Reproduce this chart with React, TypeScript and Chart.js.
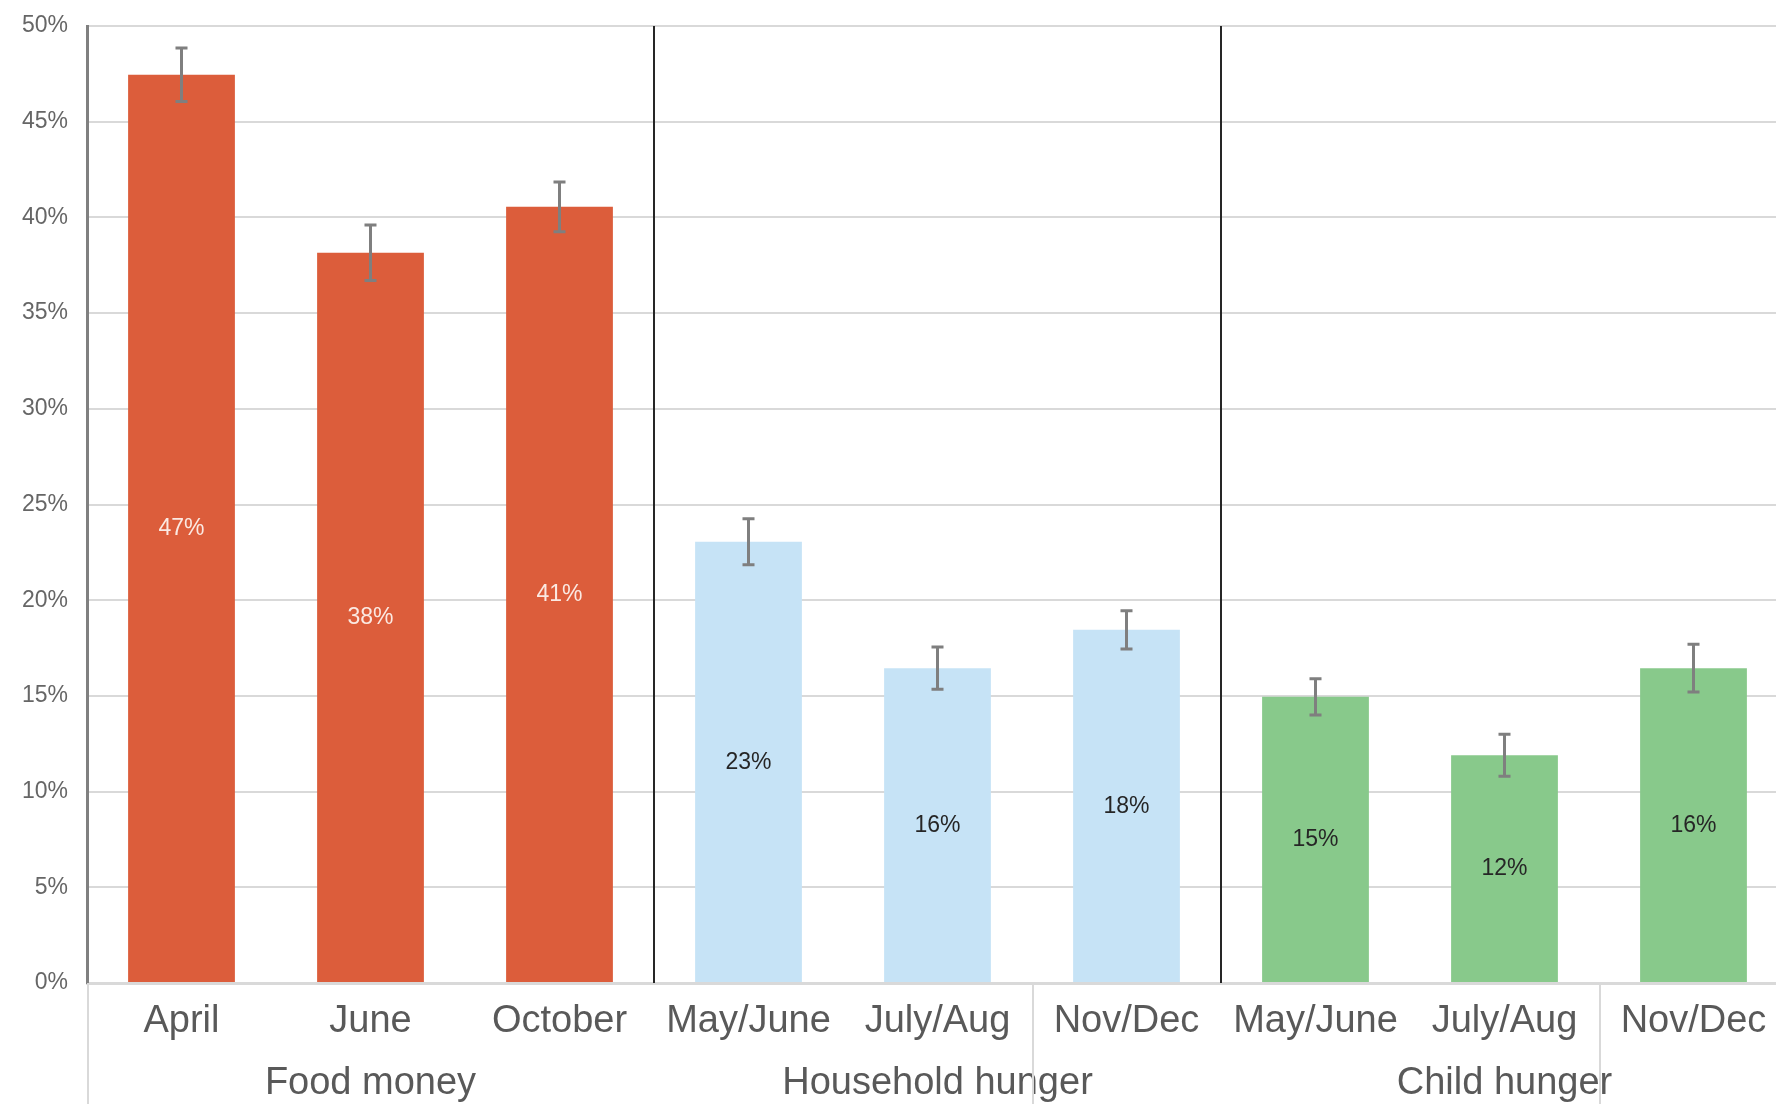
import React, { useEffect, useRef } from "react";
import { Chart, registerables } from "chart.js";

Chart.register(...registerables);

// ---- data ----
const categories: string[][] = [
  ["April"],
  ["June", "Food money"],
  ["October"],
  ["May/June"],
  ["July/Aug", "Household hunger"],
  ["Nov/Dec"],
  ["May/June"],
  ["July/Aug", "Child hunger"],
  ["Nov/Dec"],
];
const values: number[] = [47.45, 38.15, 40.55, 23.05, 16.45, 18.45, 14.95, 11.9, 16.45];
const errorMargins: number[] = [1.4, 1.45, 1.3, 1.2, 1.1, 1.0, 0.95, 1.1, 1.25];
const dataLabels: string[] = ["47%", "38%", "41%", "23%", "16%", "18%", "15%", "12%", "16%"];
const groupOf: number[] = [0, 0, 0, 1, 1, 1, 2, 2, 2];
const yTicks: number[] = [0, 5, 10, 15, 20, 25, 30, 35, 40, 45, 50];

// ---- styles ----
const groupColors = ["#DC5D3B", "#C6E3F6", "#88C98B"];
const labelColors = ["#FBE9E2", "#262626", "#262626"];
const FONT = "'Liberation Sans', Arial, sans-serif";

const overlayPlugin = {
  id: "overlay",
  afterDatasetsDraw(chart: any) {
    const ctx = chart.ctx;
    const x = chart.scales.x;
    const y = chart.scales.y;
    const area = chart.chartArea;
    const meta = chart.getDatasetMeta(0);
    const boundary = (i: number) =>
      i <= 0
        ? x.getPixelForValue(0) - (x.getPixelForValue(1) - x.getPixelForValue(0)) / 2
        : (x.getPixelForValue(i - 1) + x.getPixelForValue(i)) / 2;

    ctx.save();
    // dark group dividers inside plot
    ctx.strokeStyle = "#262626";
    ctx.lineWidth = 2;
    [3, 6].forEach((b) => {
      const bx = Math.round(boundary(b));
      ctx.beginPath();
      ctx.moveTo(bx, area.top);
      ctx.lineTo(bx, area.bottom);
      ctx.stroke();
    });
    // light separators below axis
    ctx.strokeStyle = "#D9D9D9";
    ctx.lineWidth = 2;
    [0, 5, 8].forEach((b) => {
      const bx = Math.round(boundary(b)) + 1;
      ctx.beginPath();
      ctx.moveTo(bx, area.bottom);
      ctx.lineTo(bx, chart.height);
      ctx.stroke();
    });

    // error bars
    ctx.strokeStyle = "#7F7F7F";
    ctx.lineWidth = 3;
    values.forEach((v, i) => {
      const el = meta.data[i];
      const cx = el.x;
      const top = y.getPixelForValue(v + errorMargins[i]);
      const bot = y.getPixelForValue(v - errorMargins[i]);
      ctx.beginPath();
      ctx.moveTo(cx, top);
      ctx.lineTo(cx, bot);
      ctx.moveTo(cx - 6, top);
      ctx.lineTo(cx + 6, top);
      ctx.moveTo(cx - 6, bot);
      ctx.lineTo(cx + 6, bot);
      ctx.stroke();
    });

    // data labels
    ctx.font = `23px ${FONT}`;
    ctx.textAlign = "center";
    ctx.textBaseline = "middle";
    values.forEach((v, i) => {
      const el = meta.data[i];
      ctx.fillStyle = labelColors[groupOf[i]];
      ctx.fillText(dataLabels[i], el.x, y.getPixelForValue(v / 2));
    });
    ctx.restore();
  },
};

export default function App() {
  const ref = useRef<HTMLCanvasElement | null>(null);
  useEffect(() => {
    if (!ref.current) return;
    const chart = new Chart(ref.current, {
      type: "bar",
      data: {
        labels: categories,
        datasets: [
          {
            data: values,
            backgroundColor: groupOf.map((g) => groupColors[g]),
            borderWidth: 0,
            categoryPercentage: 1,
            barPercentage: 0.565,
          },
        ],
      },
      options: {
        animation: false,
        responsive: false,
        devicePixelRatio: 1,
        layout: { padding: { top: 26, right: 12, left: 0, bottom: 0 } },
        plugins: { legend: { display: false }, tooltip: { enabled: false } },
        scales: {
          x: {
            grid: { display: false, drawTicks: false },
            border: { display: true, color: "#D9D9D9", width: 3 },
            ticks: {
              autoSkip: false,
              maxRotation: 0,
              minRotation: 0,
              padding: 8,
              color: "#595959",
              font: { family: FONT, size: 38, lineHeight: 1.63 },
            },
            afterFit: (s: any) => {
              s.height = 121;
            },
          },
          y: {
            min: 0,
            max: 50,
            afterBuildTicks: (s: any) => {
              s.ticks = yTicks.map((v) => ({ value: v }));
            },
            grid: { color: "#D9D9D9", lineWidth: 2, drawTicks: false },
            border: { display: true, color: "#808080", width: 3 },
            ticks: {
              padding: 19,
              color: "#666666",
              font: { family: FONT, size: 23 },
              callback: (v: any) => `${v}%`,
            },
            afterFit: (s: any) => {
              s.width = 87;
              s.paddingTop = 0;
              s.paddingBottom = 0;
            },
          },
        },
      },
      plugins: [overlayPlugin],
    });
    return () => chart.destroy();
  }, []);
  return (
    <div
      style={{
        position: "fixed",
        left: 0,
        top: 0,
        width: 1776,
        height: 1104,
        overflow: "hidden",
        background: "#fff",
      }}
    >
      <canvas ref={ref} width={1800} height={1104} style={{ width: 1800, height: 1104, display: "block" }} />
    </div>
  );
}
